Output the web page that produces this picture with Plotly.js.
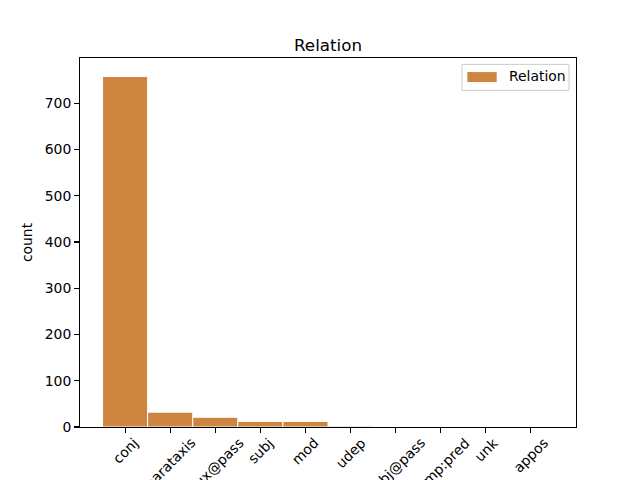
<!DOCTYPE html>
<html>
<head>
<meta charset="utf-8">
<script src="https://cdn.plot.ly/plotly-3.0.1.min.js"></script>
<style>html,body{margin:0;padding:0;background:#fff;overflow:hidden}#chart{width:640px;height:480px}</style>
</head>
<body>
<div id="chart"></div>
<script>
const categories = ["conj", "parataxis", "aux@pass", "subj", "mod", "udep", "subj@pass", "comp:pred", "unk", "appos"];
const counts = [758, 32, 21, 12, 12, 2, 1, 1, 1, 1];
const seriesName = "Relation";
const yTicks = [0, 100, 200, 300, 400, 500, 600, 700];

const FONT = "DejaVu Sans, sans-serif";
const BAR_COLOR = "#CD853F";

const trace = {
  type: "bar",
  x: categories,
  y: counts,
  name: seriesName,
  width: 1,
  marker: {color: BAR_COLOR, line: {color: "#ffffff", width: 1}},
  showlegend: false,
  hoverinfo: "x+y"
};

const annotations = categories.map(c => ({
  x: c, xref: "x",
  y: 0, yref: "paper",
  yshift: -5,
  text: c,
  textangle: -45,
  showarrow: false,
  xanchor: "center",
  yanchor: "top",
  font: {family: FONT, size: 13.9, color: "#000"}
}));

// legend entry (matplotlib-style wide swatch)
annotations.push({
  x: 0.8609, xref: "paper", y: 0.9502, yref: "paper",
  text: seriesName, showarrow: false,
  xanchor: "left", yanchor: "middle",
  font: {family: FONT, size: 13.9, color: "#000"}
});

const shapes = [
  {type: "rect", xref: "paper", yref: "paper", x0: 0.770, x1: 0.986, y0: 0.9123, y1: 0.9827,
   line: {color: "#cccccc", width: 1}, fillcolor: "rgba(255,255,255,0.8)", layer: "above"},
  {type: "rect", xref: "paper", yref: "paper", x0: 0.7809, x1: 0.8401, y0: 0.9348, y1: 0.9619,
   line: {width: 0}, fillcolor: BAR_COLOR, layer: "above"}
];

const layout = {
  width: 640, height: 480,
  margin: {l: 80, r: 64, t: 57.6, b: 52.8, pad: 0},
  paper_bgcolor: "#fff",
  plot_bgcolor: "#fff",
  font: {family: FONT, size: 13.9, color: "#000"},
  title: {
    text: seriesName,
    font: {family: FONT, size: 16.7, color: "#000"},
    xref: "paper", x: 0.5, xanchor: "center",
    yref: "paper", y: 1, yanchor: "bottom",
    pad: {b: 7}
  },
  bargap: 0,
  xaxis: {
    type: "category",
    range: [-1, 10],
    showline: true, linecolor: "#000", linewidth: 1.1, mirror: true,
    ticks: "outside", ticklen: 4.9, tickwidth: 1.1, tickcolor: "#000",
    showticklabels: false,
    showgrid: false, zeroline: false, fixedrange: true
  },
  yaxis: {
    range: [0, 798],
    tickvals: yTicks,
    ticktext: yTicks.map(String),
    showline: true, linecolor: "#000", linewidth: 1.1, mirror: true,
    ticks: "outside", ticklen: 4.9, tickwidth: 1.1, tickcolor: "#000",
    tickfont: {family: FONT, size: 13.9, color: "#000"},
    showgrid: false, zeroline: false,
    title: {text: "count", font: {family: FONT, size: 13.9, color: "#000"}, standoff: 8}
  },
  showlegend: false,
  shapes: shapes,
  annotations: annotations
};

Plotly.newPlot("chart", [trace], layout, {displayModeBar: false, staticPlot: true});
</script>
</body>
</html>
